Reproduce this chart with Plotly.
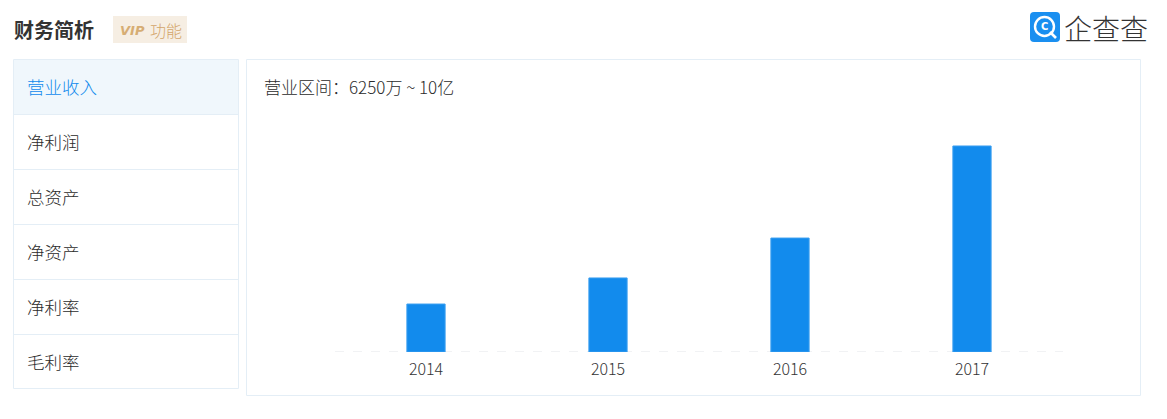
import plotly.graph_objects as go

OFF = 8  # page body margin
W, H = 1167 - OFF, 419 - OFF

years = ["2014", "2015", "2016", "2017"]
revenue = [1.49, 2.30, 3.54, 6.40]  # 亿 (estimated)
menu_items = ["营业收入", "净利润", "总资产", "净资产", "净利率", "毛利率"]
range_label = "营业区间：6250万 ~ 10亿"

FONT = "Noto Sans CJK SC"


def px(x):
    return (x - OFF) / W


def py(y):
    return (H - (y - OFF)) / H


fig = go.Figure()
fig.add_trace(go.Bar(
    x=years, y=revenue,
    marker=dict(color="#128bed", line=dict(color="#3b9ff0", width=1)),
    hoverinfo="x+y",
))

shapes = []
annotations = []

# left menu panel
shapes.append(dict(type="rect", xref="paper", yref="paper",
                   x0=px(13.5), x1=px(238.5), y0=py(59.5), y1=py(388.5),
                   line=dict(color="#e4eef6", width=1), fillcolor="white", layer="below"))
row_h = 55
for i, name in enumerate(menu_items):
    top = 59.5 + i * row_h
    if i == 0:
        shapes.append(dict(type="rect", xref="paper", yref="paper",
                           x0=px(14), x1=px(238), y0=py(top + 0.5), y1=py(top + row_h - 0.5),
                           line=dict(width=0), fillcolor="#f0f7fc", layer="below"))
    if i > 0:
        shapes.append(dict(type="line", xref="paper", yref="paper",
                           x0=px(13.5), x1=px(238.5), y0=py(top), y1=py(top),
                           line=dict(color="#e4eef6", width=1), layer="below"))
    annotations.append(dict(xref="paper", yref="paper", x=px(25), y=py(top + row_h / 2 - 0.5),
                            xanchor="left", yanchor="middle", showarrow=False, text=name,
                            font=dict(family=FONT, size=17.5, weight=300,
                                      color="#128bed" if i == 0 else "#2b2b2b")))

# right chart panel
shapes.append(dict(type="rect", xref="paper", yref="paper",
                   x0=px(246.5), x1=px(1140.5), y0=py(59.5), y1=py(395.5),
                   line=dict(color="#e4eef6", width=1), fillcolor="white", layer="below"))

# dashed baseline
shapes.append(dict(type="line", xref="x domain", yref="y", x0=0, x1=1, y0=0, y1=0,
                   line=dict(color="#e3e6ea", width=1, dash="dash"), layer="below"))

# VIP badge
shapes.append(dict(type="rect", xref="paper", yref="paper",
                   x0=px(113), x1=px(187), y0=py(16), y1=py(43),
                   line=dict(width=0), fillcolor="#f6eee3", layer="below"))

# logo square
shapes.append(dict(type="path", xref="paper", yref="paper",
                   path=f"M {px(1034)},{py(12)} L {px(1056)},{py(12)} Q {px(1060)},{py(12)} {px(1060)},{py(16)} "
                        f"L {px(1060)},{py(38)} Q {px(1060)},{py(42)} {px(1056)},{py(42)} "
                        f"L {px(1034)},{py(42)} Q {px(1030)},{py(42)} {px(1030)},{py(38)} "
                        f"L {px(1030)},{py(16)} Q {px(1030)},{py(12)} {px(1034)},{py(12)} Z",
                   line=dict(width=0), fillcolor="#1a8ff0"))
shapes.append(dict(type="circle", xref="paper", yref="paper",
                   x0=px(1035), x1=px(1054), y0=py(17), y1=py(36),
                   line=dict(color="white", width=2.4)))
shapes.append(dict(type="line", xref="paper", yref="paper",
                   x0=px(1050), x1=px(1056), y0=py(32), y1=py(38),
                   line=dict(color="white", width=2.6)))
annotations.append(dict(xref="paper", yref="paper", x=px(1044.5), y=py(26.5), showarrow=False,
                        text="<b>C</b>", font=dict(family="DejaVu Sans", size=10, color="white"),
                        xanchor="center", yanchor="middle"))
annotations.append(dict(xref="paper", yref="paper", x=px(1063), y=py(28), showarrow=False,
                        text="企查查", xanchor="left", yanchor="middle", borderpad=0,
                        font=dict(family=FONT, size=28, weight=300, color="#333333")))

# title and badge text
annotations.append(dict(xref="paper", yref="paper", x=px(12), y=py(29.5), showarrow=False,
                        text="<b>财务简析</b>", xanchor="left", yanchor="middle",
                        font=dict(family=FONT, size=20, color="#333333")))
annotations.append(dict(xref="paper", yref="paper", x=px(118), y=py(30), showarrow=False,
                        text="<b><i>VIP</i></b>", xanchor="left", yanchor="middle",
                        font=dict(family="DejaVu Sans", size=13, color="#d6ad74")))
annotations.append(dict(xref="paper", yref="paper", x=px(148), y=py(30), showarrow=False,
                        text="功能", xanchor="left", yanchor="middle",
                        font=dict(family=FONT, size=16, weight=300, color="#d3a56a")))

# range label
annotations.append(dict(xref="paper", yref="paper", x=px(262), y=py(86), showarrow=False,
                        text=range_label.replace(" ", "&nbsp;"), xanchor="left", yanchor="middle",
                        font=dict(family=FONT, size=17, weight=300, color="#2b2b2b")))

ymax = 7.0
fig.update_layout(
    width=W, height=H,
    margin=dict(l=0, r=0, t=0, b=0),
    paper_bgcolor="white", plot_bgcolor="rgba(0,0,0,0)",
    showlegend=False,
    bargap=0.79,
    shapes=shapes,
    annotations=annotations,
    xaxis=dict(domain=[px(335), px(1063)], showgrid=False, zeroline=False, showline=False,
               ticks="", tickfont=dict(family=FONT, size=16, weight=300, color="#333333"),
               ticklabelstandoff=6, fixedrange=True),
    yaxis=dict(domain=[py(352), py(352 - 206 * ymax / 6.4)], range=[0, ymax],
               showgrid=False, zeroline=False, showline=False, showticklabels=False,
               fixedrange=True),
    font=dict(family=FONT),
)

fig.write_html("out.html")
